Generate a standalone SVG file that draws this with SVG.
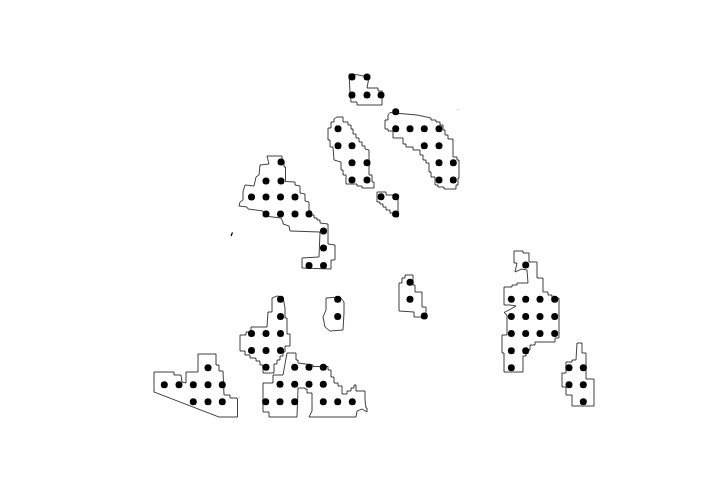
<svg xmlns="http://www.w3.org/2000/svg" width="720" height="504" viewBox="0 0 720 504">
<style>
.r{fill:none;stroke:#000;stroke-width:.75;stroke-linejoin:round}
.d{fill:#000}
</style>
<rect width="720" height="504" fill="#fff"/>
<g id="regions">
<path class="r" d="M267,156H282V160L284,161V167H285.500V181.500L295,182V185L300,186V193L305,194V201L309,202V211H311V215H314V218H317V220H320V223L328,224V244L335,245V260H331V269L302,268V258L319,257L320,232L290,231L289,226L283,224V222L281,218L264,216L263,211L248,209L247,207L239,206L240,202L243,200V192L245,185L254,186L256,177L259,175L260,165L269,164Z"/>
<path class="r" d="M349,74H353L369,77L367,88H378V91H382V105H357L357,102H351L350,92Z"/>
<path class="r" d="M337,117H343V122H348V125H351V129H353V134H356V138H359V142H362V146H365V149L369,150V175H372V182H374V188H362V186H357V184H346V175H343V170H341V162L334,160L333,147H330V140H328V128H331V122H334V119L337,117Z"/>
<path class="r" d="M390,112.500L400,113.500L417,115L431,118V120H436V122H440V125H443V130H445V135H448V139H453V157H457V160H459V178H458V185H456V189H444V187H438V185H435V177H431V172H429V163H426V160H423V155H420V150H413V147H406V144H403V138H393V131H388V129H385V120H388V115Z"/>
<path class="r" d="M377,192H386V195H398V217L393,216V213H390V210H386V207H383V204H380V202H377Z"/>
<path class="r" d="M154,372H174V375H181L182,382L186,383V372L198,372V354H216V365H219V371H223L224,395H230V398H237V399H237.500V417H219L154,392Z"/>
<path class="r" d="M272,298L277,296L283,297L285,308V318H287V334H290V346H285V352H283V356H280V360H277V364H274V373H263V365H260V361H256V358H250V355H245V351H240V335H246V332H251V327H267L268,312H272Z"/>
<path class="r" d="M326,298L340,297L344,302V313L343,330L330,331L325,327L323,317L326,310Z"/>
<path class="r" d="M263,385V383H273V375H283L287,353H296V360H298V363L313,365V366.500H328V370H331V377H334V383H338V386H342V394L347,394V391H351V388H354V385H356V391H365V400L366,408H367V412L362,409L357,411L356,417H309L312,411V393H307V389H305V388H298L297,417H269V412H263Z"/>
<path class="r" d="M405,275H413V285H415V292H422V307H426V317H414V312L399,311V283H402V278H405Z"/>
<path class="r" d="M514,251H523V253H529V262H537V278H543V292H548V295H552V298H559V338H555V342H535V345H530V350H526V356H523V372H504V353H502V335H507V315L504,312.500L511,309L516,306L510,305H504V287H512V285H517V283H528L527,270L522,269L515,272L517,263H514Z"/>
<path class="r" d="M577,343H582V353H586V379H594V406H572V395H566V387H562V373H566V362H572V360H576Z"/>
<path d="M231,236L232.500,232.500" fill="none" stroke="#000" stroke-width="1.300"/>
<path class="r" d="M458,109V109.500"/>
<path class="r" d="M239,397.500V398"/>
</g>
<g id="points" class="d">
<circle cx="281" cy="162" r="3.500"/><circle cx="266" cy="181" r="3.500"/><circle cx="281" cy="181" r="3.500"/>
<circle cx="251.500" cy="197" r="3.500"/><circle cx="266" cy="197" r="3.500"/><circle cx="280.500" cy="197" r="3.500"/><circle cx="295" cy="197" r="3.500"/>
<circle cx="266" cy="214" r="3.500"/><circle cx="280.500" cy="214" r="3.500"/><circle cx="295" cy="214" r="3.500"/><circle cx="309" cy="214" r="3.500"/>
<circle cx="323.500" cy="231" r="3.500"/><circle cx="323.500" cy="248" r="3.500"/><circle cx="309" cy="265.500" r="3.500"/><circle cx="323.500" cy="265.500" r="3.500"/>
<circle cx="352" cy="77" r="3.500"/><circle cx="367" cy="77" r="3.500"/><circle cx="352" cy="95" r="3.500"/><circle cx="367" cy="95" r="3.500"/><circle cx="381" cy="95" r="3.500"/>
<circle cx="338" cy="128.700" r="3.500"/><circle cx="338" cy="145.700" r="3.500"/><circle cx="352" cy="145.700" r="3.500"/><circle cx="352" cy="162.700" r="3.500"/><circle cx="367" cy="162.700" r="3.500"/><circle cx="352" cy="180" r="3.500"/><circle cx="367" cy="180" r="3.500"/>
<circle cx="395.700" cy="111.700" r="3.500"/><circle cx="395.700" cy="128.700" r="3.500"/><circle cx="410" cy="128.700" r="3.500"/><circle cx="424.300" cy="128.700" r="3.500"/><circle cx="439" cy="128.700" r="3.500"/>
<circle cx="424.300" cy="145.700" r="3.500"/><circle cx="439" cy="145.700" r="3.500"/><circle cx="439" cy="162.700" r="3.500"/><circle cx="453.300" cy="162.700" r="3.500"/><circle cx="439" cy="180" r="3.500"/><circle cx="453.300" cy="180" r="3.500"/>
<circle cx="381" cy="196.700" r="3.500"/><circle cx="395.700" cy="196.700" r="3.500"/><circle cx="395.700" cy="214" r="3.500"/>
<circle cx="164.300" cy="384.700" r="3.500"/><circle cx="179" cy="384.700" r="3.500"/><circle cx="193.300" cy="384.700" r="3.500"/><circle cx="208" cy="384.700" r="3.500"/><circle cx="222.300" cy="384.700" r="3.500"/><circle cx="208" cy="367.700" r="3.500"/>
<circle cx="193.300" cy="401.700" r="3.500"/><circle cx="208" cy="401.700" r="3.500"/><circle cx="222.300" cy="401.700" r="3.500"/>
<circle cx="280.500" cy="299.300" r="3.500"/><circle cx="280.500" cy="316.500" r="3.500"/><circle cx="251.500" cy="333.500" r="3.500"/><circle cx="266" cy="333.500" r="3.500"/><circle cx="280.500" cy="333.500" r="3.500"/>
<circle cx="251.500" cy="350.500" r="3.500"/><circle cx="266" cy="350.500" r="3.500"/><circle cx="280.500" cy="350.500" r="3.500"/><circle cx="266" cy="367.300" r="3.500"/>
<circle cx="337.700" cy="299.300" r="3.500"/><circle cx="337.700" cy="316.500" r="3.500"/>
<circle cx="294.700" cy="367.300" r="3.500"/><circle cx="309" cy="367.300" r="3.500"/><circle cx="323.300" cy="367.300" r="3.500"/>
<circle cx="280" cy="384.300" r="3.500"/><circle cx="294.700" cy="384.300" r="3.500"/><circle cx="309" cy="384.300" r="3.500"/><circle cx="323.300" cy="384.300" r="3.500"/>
<circle cx="265.700" cy="401.700" r="3.500"/><circle cx="280" cy="401.700" r="3.500"/><circle cx="294.700" cy="401.700" r="3.500"/><circle cx="323.300" cy="401.700" r="3.500"/><circle cx="337.700" cy="401.700" r="3.500"/><circle cx="352.300" cy="401.700" r="3.500"/>
<circle cx="410" cy="282.300" r="3.500"/><circle cx="410" cy="299.300" r="3.500"/><circle cx="424.300" cy="316" r="3.500"/>
<circle cx="525.700" cy="265" r="3.500"/>
<circle cx="511.300" cy="299.300" r="3.500"/><circle cx="525.700" cy="299.300" r="3.500"/><circle cx="540" cy="299.300" r="3.500"/><circle cx="554.700" cy="299.300" r="3.500"/>
<circle cx="511.300" cy="316.500" r="3.500"/><circle cx="525.700" cy="316.500" r="3.500"/><circle cx="540" cy="316.500" r="3.500"/><circle cx="554.700" cy="316.500" r="3.500"/>
<circle cx="511.300" cy="333.500" r="3.500"/><circle cx="525.700" cy="333.500" r="3.500"/><circle cx="540" cy="333.500" r="3.500"/><circle cx="554.700" cy="333.500" r="3.500"/>
<circle cx="511.300" cy="350.700" r="3.500"/><circle cx="525.700" cy="350.700" r="3.500"/><circle cx="511.300" cy="367.700" r="3.500"/>
<circle cx="569" cy="367.700" r="3.500"/><circle cx="583.300" cy="367.700" r="3.500"/><circle cx="569" cy="384.700" r="3.500"/><circle cx="583.300" cy="384.700" r="3.500"/><circle cx="583.300" cy="401.700" r="3.500"/>
</g>
</svg>
